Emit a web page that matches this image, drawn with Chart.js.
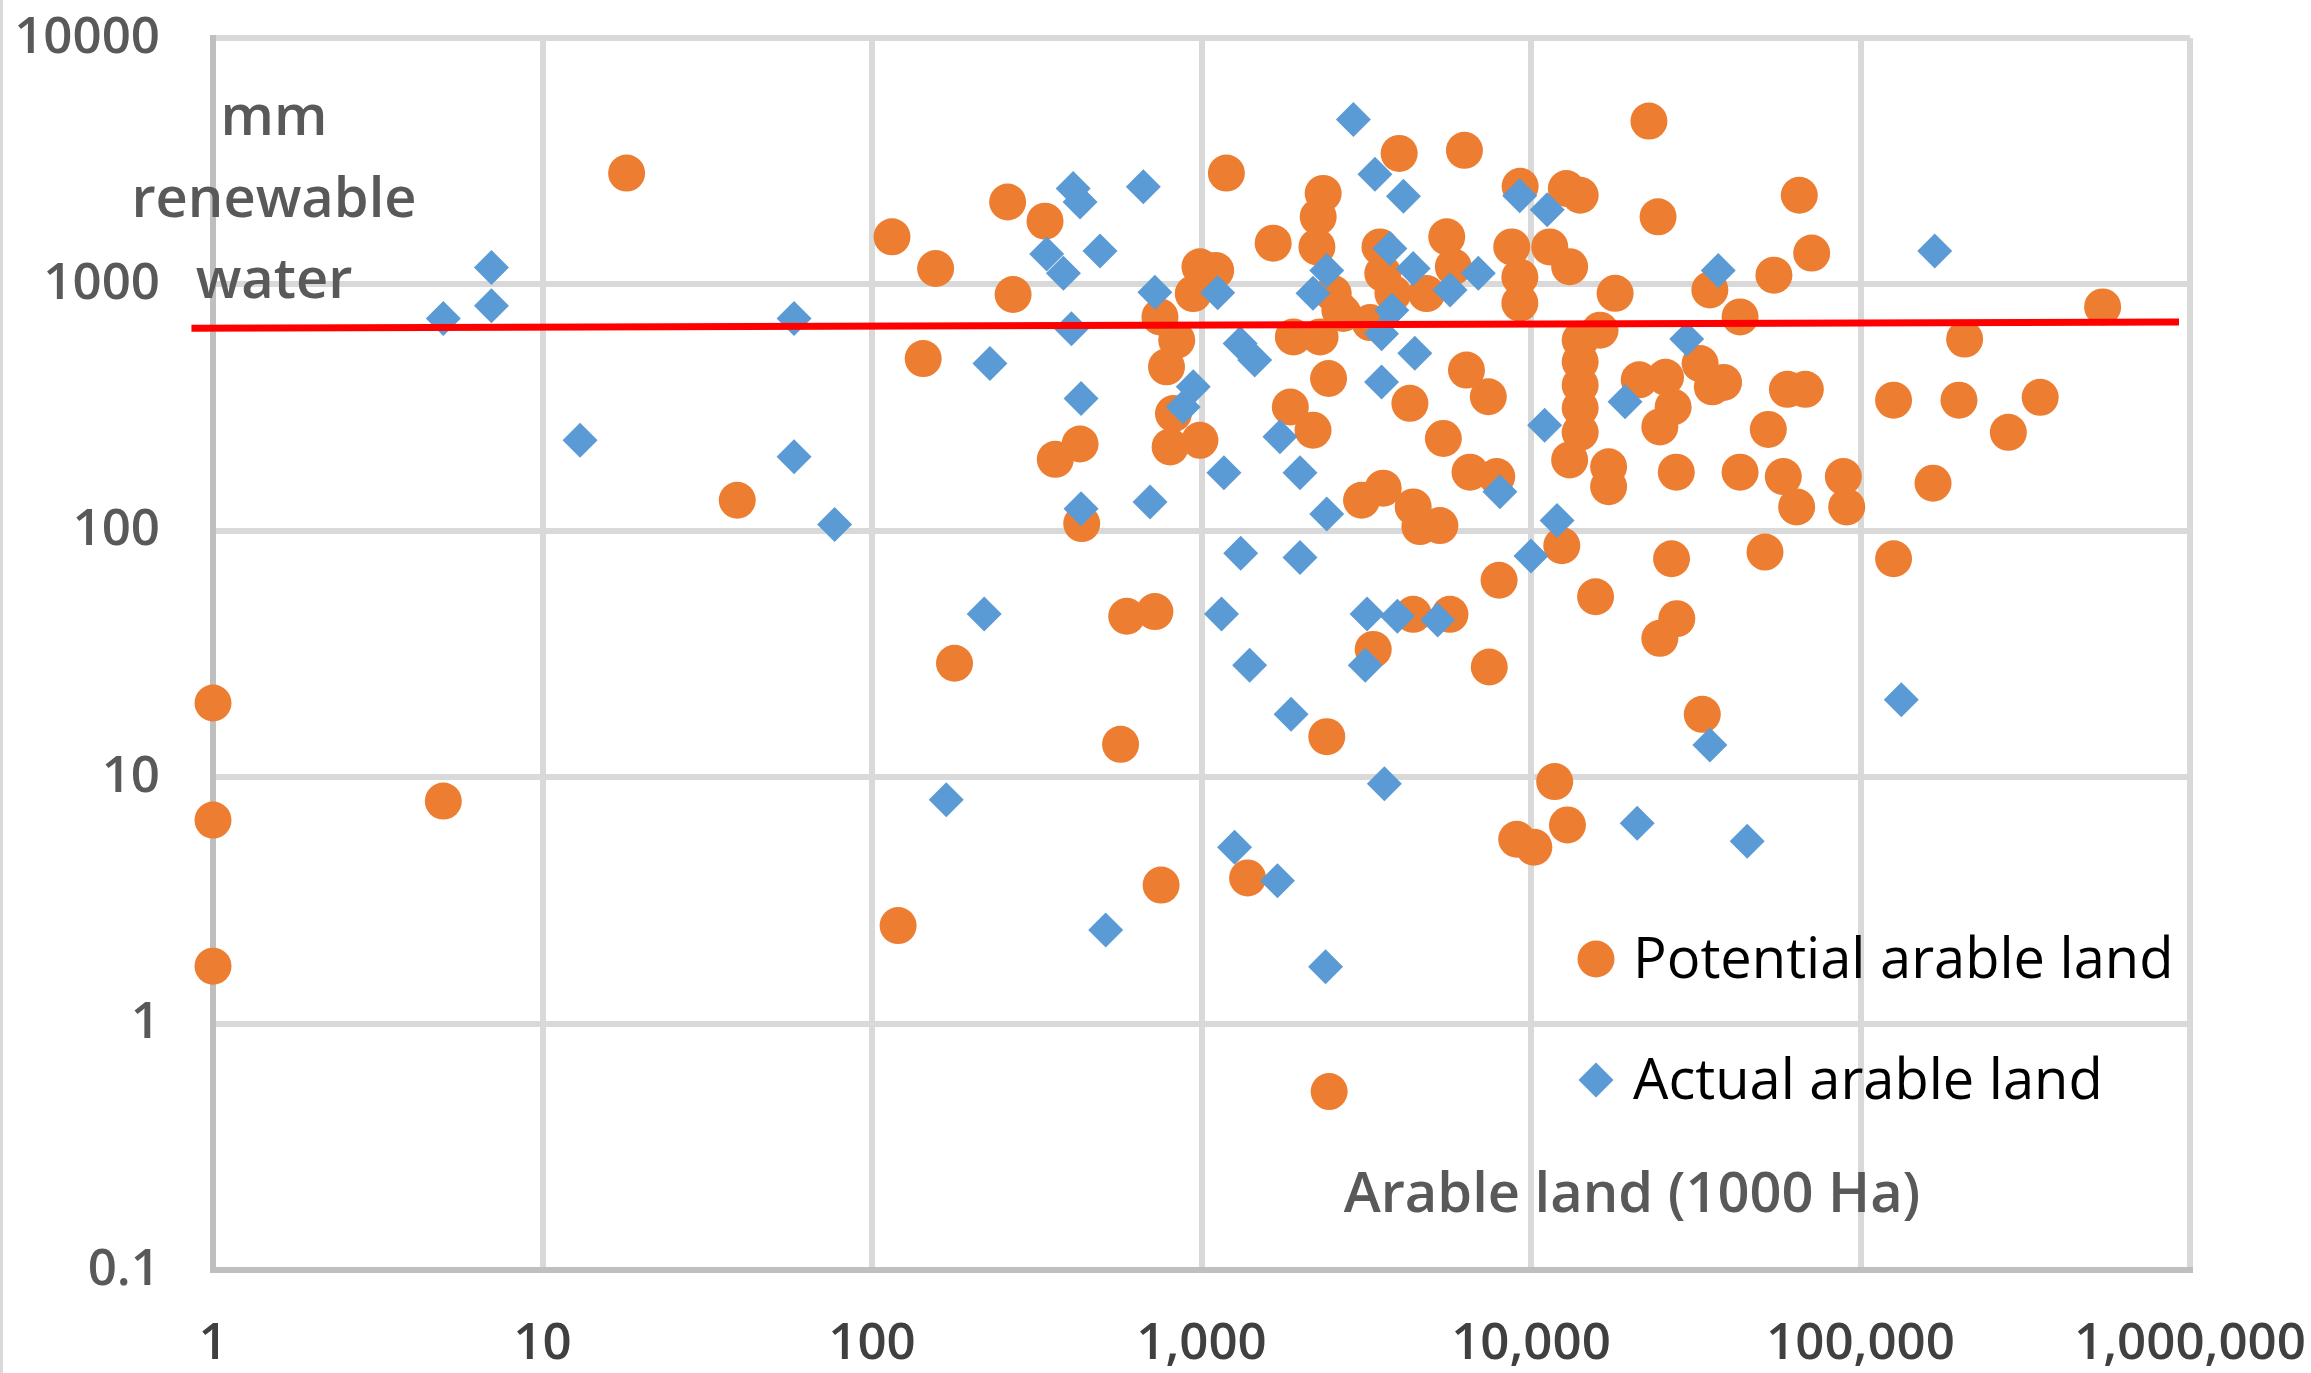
<!DOCTYPE html>
<html>
<head>
<meta charset="utf-8">
<title>Arable land vs renewable water</title>
<script src="https://cdn.jsdelivr.net/npm/chart.js@4.4.1/dist/chart.umd.min.js"></script>
<style>
  html, body { margin: 0; padding: 0; background: #fff; }
  canvas { display: block; }
</style>
</head>
<body>
<canvas id="waterChart" width="2311" height="1373"></canvas>
<script>
"use strict";

// Arable land (1000 Ha) against mm of renewable water, one point per country
const potentialX = [
  1, 1, 1, 5, 18, 39, 115, 156, 143, 178,
  120, 258, 268, 335, 360, 428, 433, 593, 722, 568,
  754, 748, 783, 841, 822, 803, 989, 944, 989, 1104,
  1190, 1380, 1650, 2340, 2260, 2240, 1860, 2180, 2430, 1900,
  2290, 2690, 2510, 2630, 3480, 3550, 3810, 3250, 3980, 6280,
  5550, 5810, 4820, 8740, 9250, 9250, 9270, 12800, 14100, 11400,
  13100, 18000, 22800, 24300, 16200, 14100, 14100, 14100, 14100, 14100,
  13100, 17200, 17200, 21300, 25600, 27000, 24600, 32600, 35500, 34900,
  27600, 4290, 6370, 7420, 5420, 3060, 3560, 4390, 5290, 4600,
  6530, 7870, 8000, 12400, 26700, 15700, 24600, 27700, 7470, 4390,
  5675, 3320, 2400, 11800, 12900, 9050, 10200, 33100, 2440, 65200,
  71100, 54600, 43100, 543000, 207000, 126000, 199000, 351000, 281000, 38400,
  60000, 68000, 52500, 43100, 58300, 64000, 88700, 90800, 166000, 51300,
  126000
];
const potentialY = [
  20, 6.7, 1.71, 8, 2830, 133, 1560, 1160, 500, 29,
  2.5, 2160, 910, 1805, 195, 225, 107, 45, 47, 13.6,
  3.65, 738, 463, 594, 299, 219, 233, 918, 1178, 1140,
  2830, 3.9, 1470, 2340, 1880, 1420, 318, 256, 415, 612,
  612, 762, 918, 786, 1420, 1109, 920, 700, 3400, 3500,
  1560, 1178, 918, 1420, 1070, 840, 2500, 2450, 2300, 1420,
  1180, 920, 4600, 1880, 652, 594, 485, 390, 315, 251,
  194, 182, 151, 410, 420, 318, 264, 477, 384, 950,
  173, 329, 449, 350, 237, 133, 149, 125, 105, 104,
  173, 166, 63, 87, 77, 54, 36.6, 44, 28, 45.8,
  45.8, 33, 14.6, 9.6, 6.4, 5.6, 5.2, 18, 0.53, 2300,
  1340, 1090, 738, 810, 600, 339, 339, 348, 251, 400,
  375, 375, 258, 173, 166, 125, 166, 125, 156, 82,
  77
];

const actualX = [
  5, 7, 7, 13, 58, 58, 77, 168, 219, 228,
  339, 381, 408, 428, 403, 431, 431, 492, 512, 666,
  698, 722, 944, 880, 1120, 1170, 1150, 1310, 1450, 1315,
  1260, 1400, 1700, 1730, 1870, 1990, 1990, 2180, 2400, 2400,
  2380, 2890, 3360, 3520, 3520, 3780, 3730, 4100, 4390, 4440,
  3180, 3930, 5210, 3140, 3590, 5680, 6920, 8050, 9240, 11200,
  10000, 11000, 12000, 19300, 21000, 29700, 37000, 34900, 45300, 133000,
  168000
];
const actualY = [
  727, 1170, 820, 233, 727, 200, 106, 8.1, 46, 477,
  1330, 1110, 2450, 2160, 660, 344, 123, 1365, 2.4, 2490,
  131, 930, 384, 318, 925, 172, 46, 576, 493, 81,
  5.2, 28.5, 3.8, 241, 18, 172, 78, 920, 1140, 117,
  1.7, 4670, 2800, 402, 630, 786, 1400, 2280, 1160, 525,
  46, 45, 43.5, 28.5, 9.4, 950, 1110, 144, 2290, 2010,
  79, 268, 110, 334, 6.5, 600, 1140, 13.5, 5.5, 20.6,
  1365
];

// the red threshold line, ends
const waterLineX = [0.86, 926000];
const waterLineY = [664, 703];

const xTickValues = [1, 10, 100, 1000, 10000, 100000, 1000000];
const xTickLabels = ['1', '10', '100', '1,000', '10,000', '100,000', '1,000,000'];
const yTickValues = [0.1, 1, 10, 100, 1000, 10000];
const yTickLabels = ['0.1', '1', '10', '100', '1000', '10000'];

const seriesNames = ['Potential arable land', 'Actual arable land'];
const yTitleLines = ['mm', 'renewable', 'water'];
const xTitle = 'Arable land (1000 Ha)';

const ORANGE = '#ed7d31';
const BLUE = '#5b9bd5';

function toPoints(xs, ys) {
  return xs.map((x, i) => ({ x: x, y: ys[i] }));
}

function marker(ctx, style, x, y, r) {
  ctx.beginPath();
  if (style === 'circle') {
    ctx.arc(x, y, r, 0, Math.PI * 2);
  } else {
    ctx.moveTo(x - r, y);
    ctx.lineTo(x, y - r);
    ctx.lineTo(x + r, y);
    ctx.lineTo(x, y + r);
    ctx.closePath();
  }
  ctx.fill();
}

// texts and legend sit inside the plot in the original, so draw them here
const overlay = {
  id: 'overlay',
  beforeDraw(chart) {
    const ctx = chart.ctx;
    ctx.save();
    ctx.fillStyle = '#fff';
    ctx.fillRect(0, 0, chart.width, chart.height);
    ctx.fillStyle = '#d9d9d9';
    ctx.fillRect(0, 0, 3, chart.height);
    ctx.restore();
  },
  afterDraw(chart) {
    const ctx = chart.ctx;
    const area = chart.chartArea;
    ctx.save();

    ctx.fillStyle = '#595959';
    ctx.font = '600 56px "Open Sans"';
    ctx.textAlign = 'center';
    ctx.textBaseline = 'alphabetic';
    yTitleLines.forEach((line, i) => {
      ctx.fillText(line, area.left + 61, area.top + 97 + i * 81.5);
    });
    ctx.fillText(xTitle, area.left + 1419, area.bottom - 58);

    // legend
    const sets = chart.data.datasets;
    ctx.textAlign = 'left';
    ctx.font = '400 56px "Open Sans"';
    [0, 1].forEach(i => {
      const ds = sets[i];
      const rowY = area.bottom - 311 + i * 121;
      ctx.fillStyle = ds.backgroundColor;
      marker(ctx, ds.pointStyle, area.right - 594, rowY, ds.pointRadius);
      ctx.fillStyle = '#000';
      ctx.fillText(ds.label, area.right - 557, rowY + 19);
    });
    ctx.restore();
  }
};

function makeChart() {
  const ctx = document.getElementById('waterChart').getContext('2d');
  new Chart(ctx, {
    type: 'scatter',
    data: {
      datasets: [
        {
          label: seriesNames[0],
          data: toPoints(potentialX, potentialY),
          backgroundColor: ORANGE,
          borderWidth: 0,
          pointStyle: 'circle',
          pointRadius: 18.5,
          clip: false,
          order: 2
        },
        {
          label: seriesNames[1],
          data: toPoints(actualX, actualY),
          backgroundColor: BLUE,
          borderWidth: 0,
          pointStyle: 'rectRot',
          pointRadius: 17.5,
          clip: false,
          order: 1
        },
        {
          label: 'threshold',
          data: toPoints(waterLineX, waterLineY),
          showLine: true,
          borderColor: '#ff0000',
          borderWidth: 7,
          pointRadius: 0,
          fill: false,
          clip: false,
          order: 0
        }
      ]
    },
    options: {
      responsive: false,
      animation: false,
      devicePixelRatio: 1,
      layout: { padding: { top: 38, right: 121, left: 0, bottom: 0 } },
      plugins: {
        legend: { display: false },
        tooltip: { enabled: false }
      },
      scales: {
        x: {
          type: 'logarithmic',
          min: 1,
          max: 1000000,
          afterBuildTicks: s => { s.ticks = xTickValues.map(v => ({ value: v })); },
          afterFit: s => {
            s.height = 103;
            s.paddingLeft = 0;
            s.paddingRight = 0;
          },
          ticks: {
            autoSkip: false,
            maxRotation: 0,
            padding: 44,
            color: '#404040',
            font: { family: 'Open Sans', size: 51, weight: '600' },
            callback: (v, i) => xTickLabels[i]
          },
          grid: { color: '#d9d9d9', lineWidth: 6, drawTicks: false },
          border: { color: '#bfbfbf', width: 6 }
        },
        y: {
          type: 'logarithmic',
          min: 0.1,
          max: 10000,
          afterBuildTicks: s => { s.ticks = yTickValues.map(v => ({ value: v })); },
          afterFit: s => {
            s.width = 213;
            s.paddingTop = 0;
            s.paddingBottom = 0;
          },
          ticks: {
            padding: 53,
            color: '#595959',
            font: { family: 'Open Sans', size: 51, weight: '600' },
            callback: (v, i) => yTickLabels[i]
          },
          grid: { color: '#d9d9d9', lineWidth: 6, drawTicks: false },
          border: { color: '#bfbfbf', width: 6 }
        }
      }
    },
    plugins: [overlay]
  });
}

Promise.all([
  document.fonts.load('600 56px "Open Sans"'),
  document.fonts.load('400 56px "Open Sans"')
]).then(makeChart, makeChart);
</script>
</body>
</html>
